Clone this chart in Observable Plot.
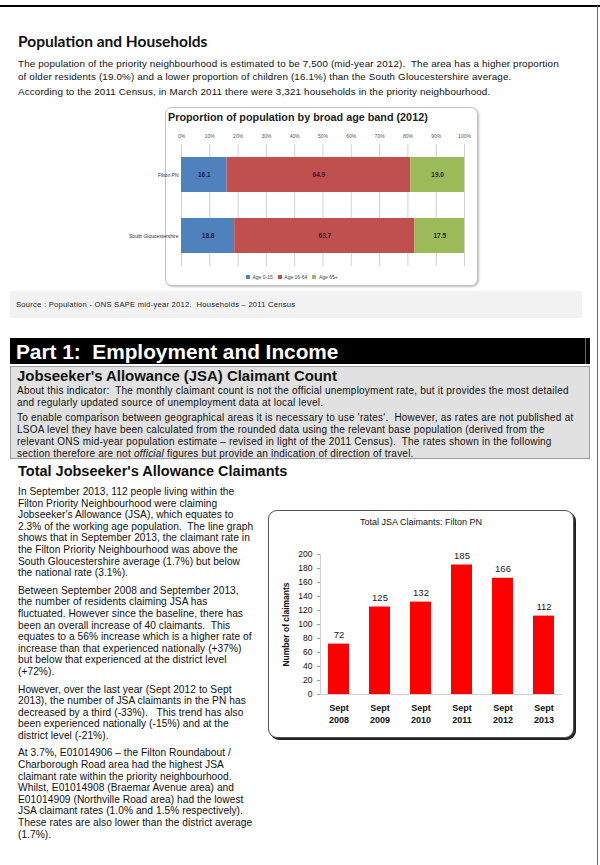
<!DOCTYPE html>
<html>
<head>
<meta charset="utf-8">
<script src="https://cdn.jsdelivr.net/npm/d3@7"></script>
<script src="https://cdn.jsdelivr.net/npm/@observablehq/plot@0.6"></script>
<style>
  body { margin: 0; background: #fff; }
  #page { position: relative; width: 600px; height: 865px; background: #fefefe; overflow: hidden;
          font-family: "Liberation Sans", Arial, sans-serif; color: #111; }
  .abs { position: absolute; }
  .ln { white-space: nowrap; }
  .h2 { font-weight: bold; font-size: 15px; color: #111; }
  .body9 { font-size: 9.8px; line-height: 13px; letter-spacing: 0.16px; }
  .col p { margin: 0 0 6px 0; }
  .col { font-size: 10.2px; line-height: 11.6px; letter-spacing: 0.05px; }
  .grey p { margin: 0 0 4px 0; }
</style>
</head>
<body>
<div id="page">
  <div class="abs" style="left:0;top:5px;width:600px;height:2px;background:#000"></div>
  <div class="abs" style="left:597px;top:6px;width:1px;height:859px;background:#666"></div>

  <div class="abs h2" style="left:18px;top:32px;font-family:Lato,'Liberation Sans',sans-serif;font-size:15.5px">Population and Households</div>
  <div class="abs body9 ln" style="left:18px;top:57px">The population of the priority neighbourhood is estimated to be 7,500 (mid-year 2012).&nbsp; The area has a higher proportion<br>of older residents (19.0%) and a lower proportion of children (16.1%) than the South Gloucestershire average.</div>
  <div class="abs body9 ln" style="left:18px;top:85px">According to the 2011 Census, in March 2011 there were 3,321 households in the priority neighbourhood.</div>

  <div class="abs" style="left:165px;top:107px;width:311px;height:177px;border:1px solid #c4c4c4;border-radius:7px;box-shadow:1px 1px 2px rgba(0,0,0,0.25);background:#fff"></div>
  <div class="abs ln" style="left:168px;top:111px;font-weight:bold;font-size:10.8px;color:#222">Proportion of population by broad age band (2012)</div>
  <div id="agechart" class="abs" style="left:140px;top:125px"></div>
  <div id="agelegend" class="abs" style="left:246px;top:260px"></div>

  <div class="abs" style="left:10px;top:291px;width:572px;height:27px;background:#f2f2f2"></div>
  <div class="abs ln" style="left:16px;top:300px;font-size:7.6px;letter-spacing:0.25px;color:#222">Source : Population - ONS SAPE mid-year 2012.&nbsp; Households – 2011 Census</div>

  <div class="abs" style="left:10px;top:338px;width:580px;height:26px;background:#000"></div>
  <div class="abs" style="left:585px;top:338px;width:1px;height:26px;background:#666"></div>
  <div class="abs ln" style="left:16px;top:339px;font-size:20.8px;font-weight:bold;color:#fff;line-height:25px">Part 1:&nbsp; Employment and Income</div>

  <div class="abs" style="left:10px;top:366px;width:578px;height:91px;background:#e1e1e1;border:1px solid #9a9a9a"></div>
  <div class="abs grey" style="left:17px;top:368px;font-size:10px;line-height:11.7px;letter-spacing:0.22px">
    <div class="ln" style="font-weight:bold;font-size:14.9px;line-height:17px;letter-spacing:0">Jobseeker's Allowance (JSA) Claimant Count</div>
    <p class="ln">About this indicator:&nbsp; The monthly claimant count is not the official unemployment rate, but it provides the most detailed<br>and regularly updated source of unemployment data at local level.</p>
    <p class="ln">To enable comparison between geographical areas it is necessary to use 'rates'.&nbsp; However, as rates are not published at<br>LSOA level they have been calculated from the rounded data using the relevant base population (derived from the<br>relevant ONS mid-year population estimate – revised in light of the 2011 Census).&nbsp; The rates shown in the following<br>section therefore are not <i>official</i> figures but provide an indication of direction of travel.</p>
  </div>

  <div class="abs h2 ln" style="left:18px;top:463px;font-size:14.5px">Total Jobseeker's Allowance Claimants</div>
  <div class="abs col ln" style="left:18px;top:486px">
    <p>In September 2013, 112 people living within the<br>Filton Priority Neighbourhood were claiming<br>Jobseeker's Allowance (JSA), which equates to<br>2.3% of the working age population.&nbsp; The line graph<br>shows that in September 2013, the claimant rate in<br>the Filton Priority Neighbourhood was above the<br>South Gloucestershire average (1.7%) but below<br>the national rate (3.1%).</p>
    <p>Between September 2008 and September 2013,<br>the number of residents claiming JSA has<br>fluctuated. However since the baseline, there has<br>been an overall increase of 40 claimants.&nbsp; This<br>equates to a 56% increase which is a higher rate of<br>increase than that experienced nationally (+37%)<br>but below that experienced at the district level<br>(+72%).</p>
    <p>However, over the last year (Sept 2012 to Sept<br>2013), the number of JSA claimants in the PN has<br>decreased by a third (-33%).&nbsp;&nbsp; This trend has also<br>been experienced nationally (-15%) and at the<br>district level (-21%).</p>
    <p>At 3.7%, E01014906 – the Filton Roundabout /<br>Charborough Road area had the highest JSA<br>claimant rate within the priority neighbourhood.<br>Whilst, E01014908 (Braemar Avenue area) and<br>E01014909 (Northville Road area) had the lowest<br>JSA claimant rates (1.0% and 1.5% respectively).<br>These rates are also lower than the district average<br>(1.7%).</p>
  </div>

  <div class="abs" style="left:268px;top:510px;width:304px;height:226px;border:1px solid #555;border-radius:9px;box-shadow:2px 2px 0 #222;background:#fff"></div>
  <div class="abs ln" style="left:268px;top:517px;width:306px;text-align:center;font-size:9px;color:#111">Total JSA Claimants: Filton PN</div>
  <div id="jsachart" class="abs" style="left:270px;top:530px"></div>
</div>

<script>
// ---- Data: population by broad age band (2012), % ----
const ageBands = ["Age 0-15", "Age 16-64", "Age 65+"];
const areas = ["Filton PN", "South Gloucestershire"];
const filtonShares = [16.1, 64.9, 19.0];
const southGlosShares = [18.8, 63.7, 17.5];
const pctTicks = [0, 10, 20, 30, 40, 50, 60, 70, 80, 90, 100];
const bandColors = ["#4F81BD", "#C0504D", "#9BBB59"];

// ---- Data: total JSA claimants, Filton PN ----
const jsaPeriods = ["Sept 2008", "Sept 2009", "Sept 2010", "Sept 2011", "Sept 2012", "Sept 2013"];
const jsaClaimants = [72, 125, 132, 185, 166, 112];
const claimantTicks = [0, 20, 40, 60, 80, 100, 120, 140, 160, 180, 200];

const font = "Liberation Sans, Arial, sans-serif";

const ageRows = [];
[filtonShares, southGlosShares].forEach((vals, i) => {
  vals.forEach((v, j) => ageRows.push({area: areas[i], band: ageBands[j], value: v}));
});

const ageChart = Plot.plot({
  width: 338, height: 160,
  marginLeft: 41, marginRight: 14, marginTop: 19, marginBottom: 19,
  style: {fontFamily: font, background: "transparent", overflow: "visible"},
  x: {domain: [0, 100]},
  y: {domain: areas, paddingInner: 0.426, paddingOuter: 0.213},
  color: {domain: ageBands, range: bandColors},
  marks: [
    Plot.gridX(pctTicks, {stroke: "#d0d0d0", strokeOpacity: 1}),
    Plot.barX(ageRows, Plot.stackX({x: "value", y: "area", fill: "band", order: ageBands})),
    Plot.text(ageRows, Plot.stackX({x: "value", y: "area", z: "band", order: ageBands,
      text: d => d.value.toFixed(1), fontSize: 6.5, fontWeight: "bold", fill: "#1f1f2f"})),
    Plot.axisX({anchor: "top", ticks: pctTicks, tickFormat: d => d + "%", tickSize: 0, tickPadding: 7, fontSize: 5, fill: "#555", label: null}),
    Plot.axisY({tickSize: 0, tickPadding: 3, fontSize: 5, fill: "#333", label: null})
  ]
});
document.getElementById("agechart").appendChild(ageChart);

const legend = Plot.legend({
  color: {domain: ageBands, range: bandColors},
  swatchSize: 4,
  style: {fontFamily: font, fontSize: "5px", color: "#444"}
});
document.getElementById("agelegend").appendChild(legend);

const jsaRows = jsaPeriods.map((p, i) => ({period: p, count: jsaClaimants[i]}));

const jsaChart = Plot.plot({
  width: 303, height: 200,
  marginLeft: 50, marginRight: 10.6, marginTop: 24, marginBottom: 36,
  style: {fontFamily: font, background: "transparent", overflow: "visible", color: "#111"},
  x: {domain: jsaPeriods, paddingInner: 0.5, paddingOuter: 0.18},
  y: {domain: [0, 200]},
  marks: [
    Plot.frame({anchor: "left", stroke: "#cfcfcf"}),
    Plot.ruleY([0], {stroke: "#cfcfcf"}),
    Plot.barY(jsaRows, {x: "period", y: "count", fill: "#ff0000"}),
    Plot.text(jsaRows, {x: "period", y: "count", text: d => String(d.count), dy: -9, fontSize: 9.5, fill: "#222"}),
    Plot.axisY({ticks: claimantTicks, tickSize: 3, tickPadding: 5, fontSize: 8.5, stroke: "#999", label: null}),
    Plot.axisY({ticks: [], tickSize: 0, fontSize: 8.5, fontWeight: "bold",
      label: "Number of claimants", labelAnchor: "center", labelArrow: "none", labelOffset: 38}),
    Plot.axisX({tickSize: 0, tickPadding: 8, fontSize: 9, fontWeight: "bold", lineHeight: 1.3,
      tickFormat: d => d.replace(" ", "\n"), label: null})
  ]
});
document.getElementById("jsachart").appendChild(jsaChart);
</script>
</body>
</html>
